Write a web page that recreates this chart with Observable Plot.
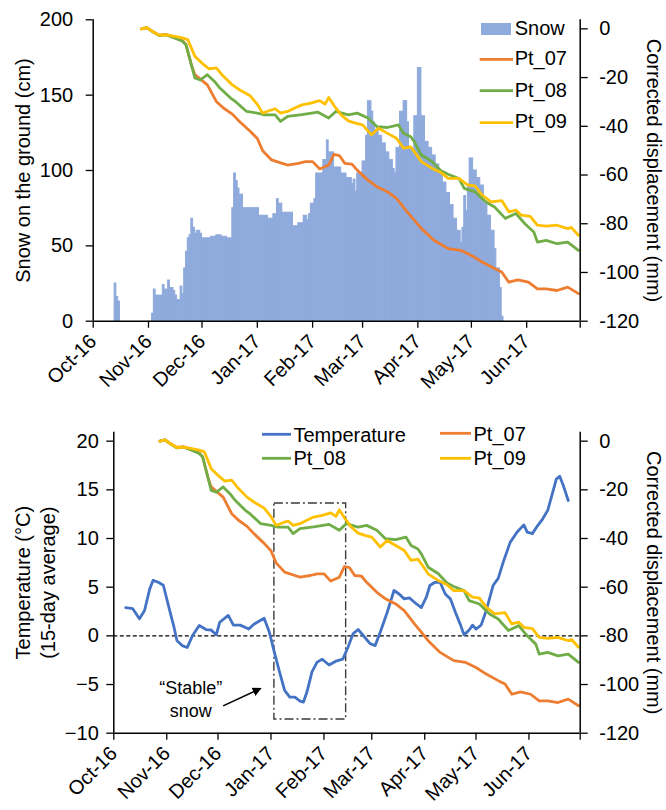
<!DOCTYPE html>
<html><head><meta charset="utf-8">
<script src="https://cdn.jsdelivr.net/npm/d3@7"></script>
<script src="https://cdn.jsdelivr.net/npm/@observablehq/plot@0.6"></script>
<style>
body{margin:0;background:#fff}
#c svg{display:block;overflow:visible}
</style></head><body><div id="c"></div>
<script>
// ---------- DATA ----------
const snowDates = ["2016-10-13","2016-10-14","2016-10-15","2016-10-16",
"2016-11-03","2016-11-04","2016-11-05","2016-11-09","2016-11-10","2016-11-12","2016-11-13","2016-11-15","2016-11-16","2016-11-17","2016-11-19","2016-11-20","2016-11-21","2016-11-22","2016-11-23","2016-11-24","2016-11-25","2016-11-26","2016-11-27","2016-11-28","2016-11-30",
"2016-12-01","2016-12-06","2016-12-09","2016-12-12","2016-12-15","2016-12-18","2016-12-19","2016-12-20","2016-12-21","2016-12-22","2016-12-24",
"2017-01-02","2017-01-07","2017-01-10","2017-01-12","2017-01-13","2017-01-15","2017-01-21","2017-01-24","2017-01-27","2017-01-29","2017-01-30","2017-01-31",
"2017-02-02","2017-02-03","2017-02-07","2017-02-09","2017-02-10","2017-02-13","2017-02-17","2017-02-20","2017-02-23","2017-02-24","2017-02-25","2017-02-26",
"2017-03-01","2017-03-03","2017-03-04","2017-03-06","2017-03-07","2017-03-08","2017-03-10","2017-03-12","2017-03-14","2017-03-16","2017-03-18","2017-03-19","2017-03-20","2017-03-22","2017-03-24","2017-03-26","2017-03-27","2017-03-29","2017-03-30",
"2017-04-01","2017-04-03","2017-04-05","2017-04-07","2017-04-09","2017-04-11","2017-04-13","2017-04-15","2017-04-17","2017-04-19","2017-04-21","2017-04-23","2017-04-25","2017-04-26","2017-04-27","2017-04-28","2017-04-29","2017-04-30",
"2017-05-02","2017-05-04","2017-05-06","2017-05-08","2017-05-10","2017-05-12","2017-05-14","2017-05-15","2017-05-17","2017-05-18","2017-05-19"];
const snowCm = [25,16,13,0,
5,21,17,24,21,27,22,20,17,14,23,18,35,46,55,57,68,62,58,60,58,
55,56,57,56,55,75,98,93,88,84,75,
70,68,71,81,78,72,63,65,70,67,71,78,
81,98,107,120,112,102,98,95,91,94,86,98,
106,123,146,139,132,127,123,118,112,107,101,98,115,139,146,132,115,112,136,
168,136,119,115,110,104,98,92,85,77,68,60,52,62,83,73,90,108,
100,95,90,78,70,60,48,35,22,3,0];

const pt07Dates = ["2016-10-28","2016-10-31","2016-11-03","2016-11-07","2016-11-11","2016-11-15","2016-11-20","2016-11-22","2016-11-25","2016-11-27","2016-12-04","2016-12-09","2016-12-13","2016-12-18","2016-12-22","2016-12-28","2017-01-01","2017-01-04","2017-01-09","2017-01-15","2017-01-18","2017-01-24","2017-01-28","2017-02-01","2017-02-05","2017-02-10","2017-02-13","2017-02-16","2017-02-19","2017-02-23","2017-02-26","2017-03-04","2017-03-09","2017-03-15","2017-03-20","2017-03-26","2017-03-30","2017-04-03","2017-04-10","2017-04-18","2017-04-25","2017-05-01","2017-05-07","2017-05-14","2017-05-18","2017-05-22","2017-05-27","2017-06-02","2017-06-07","2017-06-12","2017-06-18","2017-06-24","2017-06-30"];
const pt07Mm = [0,0.5,-1,-2.6,-2.3,-3.5,-4.8,-6.5,-14.7,-18.8,-23,-29.8,-32.5,-35,-38,-42,-45,-50,-53.8,-55.2,-55.9,-55.2,-54.5,-54.5,-57.5,-55.9,-51.5,-52,-55.2,-55.5,-58,-62.1,-64.8,-66.9,-69.6,-75.1,-78.5,-82,-86.8,-90.2,-90.9,-93,-95.7,-98.4,-99.8,-104,-103,-104,-106.7,-106.7,-107.4,-106,-108.7];

const pt08Dates = ["2016-10-28","2016-10-31","2016-11-03","2016-11-07","2016-11-11","2016-11-15","2016-11-20","2016-11-22","2016-11-25","2016-11-27","2016-11-30","2016-12-04","2016-12-08","2016-12-11","2016-12-17","2016-12-20","2016-12-26","2017-01-01","2017-01-05","2017-01-11","2017-01-14","2017-01-18","2017-01-26","2017-02-04","2017-02-10","2017-02-14","2017-02-21","2017-02-26","2017-03-04","2017-03-09","2017-03-15","2017-03-21","2017-03-24","2017-03-28","2017-03-30","2017-04-03","2017-04-09","2017-04-14","2017-04-18","2017-04-24","2017-04-27","2017-05-03","2017-05-09","2017-05-14","2017-05-20","2017-05-26","2017-05-31","2017-06-05","2017-06-07","2017-06-12","2017-06-18","2017-06-24","2017-06-30"];
const pt08Mm = [0,0.5,-1,-2.8,-2.5,-3.5,-5.1,-6.5,-14.7,-20.2,-21,-18.8,-21.6,-24.3,-28.4,-30,-33.9,-34.6,-35.3,-35.3,-38,-35.9,-35.2,-34.2,-36.6,-33.9,-35.3,-34.6,-36.6,-40.1,-40.5,-39.4,-42.9,-44.3,-46.3,-51.8,-54.5,-58.3,-59.7,-61.4,-65.5,-66.9,-71,-73.1,-77.8,-75.8,-80,-83.4,-87.5,-86.8,-88.2,-87.5,-90.9];

const pt09Dates = ["2016-10-28","2016-10-31","2016-11-03","2016-11-07","2016-11-11","2016-11-15","2016-11-20","2016-11-23","2016-11-25","2016-11-27","2016-12-02","2016-12-05","2016-12-09","2016-12-13","2016-12-18","2016-12-22","2016-12-28","2017-01-01","2017-01-04","2017-01-08","2017-01-11","2017-01-14","2017-01-18","2017-01-22","2017-01-26","2017-01-31","2017-02-05","2017-02-08","2017-02-10","2017-02-13","2017-02-17","2017-02-21","2017-02-25","2017-03-01","2017-03-06","2017-03-10","2017-03-15","2017-03-20","2017-03-24","2017-03-28","2017-03-30","2017-04-03","2017-04-09","2017-04-14","2017-04-18","2017-04-24","2017-04-29","2017-05-03","2017-05-07","2017-05-12","2017-05-18","2017-05-22","2017-05-26","2017-05-29","2017-06-03","2017-06-07","2017-06-12","2017-06-18","2017-06-24","2017-06-26","2017-06-30"];
const pt09Mm = [0,0.5,-1,-2.6,-2.5,-3,-3.7,-4.4,-7.8,-11.3,-14.7,-16.4,-16,-19.5,-23,-25,-27.5,-31,-34.6,-33.5,-32.8,-34.6,-33.9,-32.5,-31.2,-30.5,-29.5,-30.9,-28.2,-31.5,-35.3,-37.8,-38.7,-39.4,-43.5,-40.8,-42.9,-44.9,-49,-48.5,-50.4,-54.5,-57.3,-59,-61.4,-61.4,-64.1,-64.5,-68.2,-71,-70.5,-75.1,-74.4,-76.5,-77,-80.6,-81,-80.6,-82,-81.5,-84.7];

const tempDates = ["2016-10-08","2016-10-12","2016-10-16","2016-10-19","2016-10-22","2016-10-24","2016-10-27","2016-10-30","2016-11-02","2016-11-05","2016-11-07","2016-11-10","2016-11-13","2016-11-16","2016-11-20","2016-11-24","2016-11-27","2016-11-30","2016-12-02","2016-12-07","2016-12-10","2016-12-14","2016-12-19","2016-12-22","2016-12-28","2016-12-31","2017-01-03","2017-01-06","2017-01-09","2017-01-12","2017-01-15","2017-01-18","2017-01-20","2017-01-22","2017-01-25","2017-01-28","2017-01-31","2017-02-04","2017-02-08","2017-02-12","2017-02-15","2017-02-18","2017-02-21","2017-02-24","2017-02-28","2017-03-03","2017-03-06","2017-03-10","2017-03-14","2017-03-17","2017-03-20","2017-03-23","2017-03-27","2017-03-30","2017-04-02","2017-04-04","2017-04-07","2017-04-10","2017-04-13","2017-04-16","2017-04-19","2017-04-22","2017-04-24","2017-04-27","2017-04-29","2017-05-01","2017-05-04","2017-05-07","2017-05-11","2017-05-14","2017-05-17","2017-05-21","2017-05-25","2017-05-29","2017-05-31","2017-06-03","2017-06-06","2017-06-09","2017-06-12","2017-06-15","2017-06-17","2017-06-19","2017-06-21","2017-06-24"];
const tempC = [2.9,2.8,1.75,2.6,4.8,5.7,5.5,5.2,3.1,1.06,-0.5,-1.0,-1.2,0.0,1.06,0.65,0.6,0.1,1.4,2.1,1.1,1.1,0.7,1.2,1.8,0.4,-1.7,-3.7,-5.6,-6.3,-6.3,-6.7,-6.8,-5.8,-3.7,-2.7,-2.4,-3.0,-2.6,-2.4,-1.2,0.2,0.65,0.04,-0.8,-1.0,0.4,2.4,4.66,4.3,3.8,3.9,3.3,2.9,4.0,5.17,5.5,5.5,4.3,3.8,2.4,1.1,0.1,0.6,1.1,0.7,1.1,2.6,5.17,5.9,7.6,9.6,10.65,11.4,10.65,10.5,11.3,12.0,12.9,14.8,16.1,16.4,15.5,13.9];

const monthTicks = ["2016-10-01","2016-11-01","2016-12-01","2017-01-01","2017-02-01","2017-03-01","2017-04-01","2017-05-01","2017-06-01","2017-07-01"];
const monthLabels = ["Oct-16","Nov-16","Dec-16","Jan-17","Feb-17","Mar-17","Apr-17","May-17","Jun-17",""];
const snowTicks = [0,50,100,150,200];
const dispTicks = [-120,-100,-80,-60,-40,-20,0];
const tempTicks = [-10,-5,0,5,10,15,20];

const boxDates = ["2017-01-03","2017-02-14"];
const boxC = [-8.6, 13.6];
const arrowDates = ["2016-12-04","2016-12-26"];
const arrowC = [-7.2, -5.4];
const noteDate = "2016-11-15";
const noteC = -6.4;
const noteText = "\u201CStable\u201D\nsnow";

// ---------- HELPERS ----------
const P = s => new Date(s + "T00:00:00Z");
const FONT = "'Liberation Sans', Arial, sans-serif";
const SNOW = "#8FAADC", C07 = "#ED7D31", C08 = "#70AD47", C09 = "#FFC000", CT = "#4472C4";
const xStart = P(monthTicks[0]), xEnd = P(monthTicks[monthTicks.length - 1]);
const tickDates = monthTicks.map(P);
const labelOf = new Map(tickDates.map((d, i) => [+d, monthLabels[i]]));

const series = (dates, vals) => dates.map((d, i) => ({date: P(d), v: vals[i]}));
const s07 = series(pt07Dates, pt07Mm), s08 = series(pt08Dates, pt08Mm), s09 = series(pt09Dates, pt09Mm);
const sT = series(tempDates, tempC);
const snowRows = snowDates.slice(0, -1).map((d, i) => ({x1: P(d), x2: P(snowDates[i + 1]), v: snowCm[i]}));

function ptMarks(f) {
  return [[s07, C07], [s08, C08], [s09, C09]].map(([s, c]) =>
    Plot.line(s, {x: "date", y: d => f(d.v), stroke: c, strokeWidth: 2.8, strokeLinejoin: "round", curve: "linear"}));
}
const axisStyle = {stroke: "#000", strokeWidth: 1.5};

// ---------- TOP PANEL ----------
const K = 194 / 120;
const toSnow = r => (r + 120) * K;
const topPlot = Plot.plot({
  width: 666, height: 400,
  marginTop: 19.3, marginRight: 86.3, marginBottom: 79.3, marginLeft: 92.7,
  style: {fontFamily: FONT, fontSize: "20px", color: "#000", background: "#fff", overflow: "visible"},
  x: {type: "utc", domain: [xStart, xEnd]},
  y: {domain: [0, 200]},
  marks: [
    Plot.rectY(snowRows, {x1: "x1", x2: "x2", y: "v", fill: SNOW, stroke: SNOW, strokeWidth: 1}),
    ...ptMarks(toSnow),
    Plot.ruleX([xStart], axisStyle),
    Plot.ruleX([xEnd], axisStyle),
    Plot.ruleY([0], axisStyle),
    Plot.axisY(snowTicks, {tickSize: 7, tickPadding: 13, fontSize: 20, label: null, strokeWidth: 1.3}),
    Plot.axisY(dispTicks.map(toSnow), {anchor: "right", tickSize: 7, tickPadding: 12, fontSize: 20, label: null, strokeWidth: 1.3,
      tickFormat: d => String(Math.round(d / K - 120))}),
    Plot.axisX(tickDates, {tickRotate: -45, tickSize: 7, tickPadding: 10, fontSize: 20, label: null, strokeWidth: 1.3,
      tickFormat: d => labelOf.get(+d)}),
    Plot.text(["Snow on the ground (cm)"], {frameAnchor: "left", textAnchor: "middle", rotate: -90, dx: -70, fontSize: 20}),
    Plot.text(["Corrected displacement (mm)"], {frameAnchor: "right", textAnchor: "middle", rotate: 90, dx: 73, fontSize: 20})
  ]
});

// ---------- BOTTOM PANEL ----------
const toTemp = r => r / 4 + 20;
const botPlot = Plot.plot({
  width: 666, height: 410,
  marginTop: 31.7, marginRight: 86.3, marginBottom: 77.3, marginLeft: 113.3,
  style: {fontFamily: FONT, fontSize: "20px", color: "#000", background: "#fff", overflow: "visible"},
  x: {type: "utc", domain: [xStart, xEnd]},
  y: {domain: [-10, 20.92]},
  marks: [
    Plot.ruleY([0], {stroke: "#000", strokeWidth: 1.3, strokeDasharray: "4,2.5"}),
    Plot.rect([{x1: P(boxDates[0]), x2: P(boxDates[1]), y1: boxC[0], y2: boxC[1]}],
      {x1: "x1", x2: "x2", y1: "y1", y2: "y2", fill: "none", stroke: "#3a3a3a", strokeWidth: 1.4, strokeDasharray: "9,3,2,3"}),
    Plot.line(sT, {x: "date", y: "v", stroke: CT, strokeWidth: 2.8, strokeLinejoin: "round"}),
    ...ptMarks(toTemp),
    Plot.link([{x1: P(arrowDates[0]), y1: arrowC[0], x2: P(arrowDates[1]), y2: arrowC[1]}],
      {x1: "x1", y1: "y1", x2: "x2", y2: "y2", stroke: "#000", strokeWidth: 1.5, className: "note-arrow"}),
    Plot.text([noteText], {x: () => P(noteDate), y: () => noteC, fontSize: 18, lineHeight: 1.3, textAnchor: "middle", fill: "#000"}),
    Plot.ruleX([xStart], axisStyle),
    Plot.ruleX([xEnd], axisStyle),
    Plot.ruleY([-10], axisStyle),
    Plot.axisY(tempTicks, {tickSize: 7, tickPadding: 8, fontSize: 20, label: null, strokeWidth: 1.3}),
    Plot.axisY(dispTicks.map(toTemp), {anchor: "right", tickSize: 7, tickPadding: 12, fontSize: 20, label: null, strokeWidth: 1.3,
      tickFormat: d => String(Math.round((d - 20) * 4))}),
    Plot.axisX(tickDates, {tickRotate: -45, tickSize: 7, tickPadding: 10, fontSize: 20, label: null, strokeWidth: 1.3,
      tickFormat: d => labelOf.get(+d)}),
    Plot.text(["Temperature (\u00B0C)\n(15-day average)"], {frameAnchor: "left", textAnchor: "middle", rotate: -90, dx: -79, fontSize: 20, lineHeight: 1.25}),
    Plot.text(["Corrected displacement (mm)"], {frameAnchor: "right", textAnchor: "middle", rotate: 90, dx: 73, fontSize: 20})
  ]
});

document.getElementById("c").append(topPlot, botPlot);

// ---------- LEGENDS & ARROW HEAD ----------
function legendLine(svg, x1, x2, y, color, label, tx, ty) {
  svg.append("line").attr("x1", x1).attr("x2", x2).attr("y1", y).attr("y2", y)
    .attr("stroke", color).attr("stroke-width", 2.8);
  svg.append("text").attr("x", tx).attr("y", ty).attr("font-size", 20).attr("text-anchor", "start").attr("fill", "#000").text(label);
}
const ts = d3.select(topPlot);
ts.append("rect").attr("x", 481).attr("y", 23).attr("width", 30).attr("height", 12).attr("fill", SNOW);
ts.append("text").attr("x", 514.7).attr("y", 35).attr("font-size", 20).attr("text-anchor", "start").attr("fill", "#000").text("Snow");
legendLine(ts, 479.7, 513, 59.3, C07, "Pt_07", 514.7, 65);
legendLine(ts, 479.7, 513, 90.7, C08, "Pt_08", 514.7, 96.7);
legendLine(ts, 479.7, 513, 122.7, C09, "Pt_09", 514.7, 128.3);

const bs = d3.select(botPlot);
legendLine(bs, 262, 291, 34.3, CT, "Temperature", 293.5, 41.7);
legendLine(bs, 262, 291, 58.3, C08, "Pt_08", 293.5, 65);
legendLine(bs, 440, 471, 33.3, C07, "Pt_07", 473.5, 40.7);
legendLine(bs, 440, 471, 58.3, C09, "Pt_09", 473.5, 65);

const defs = bs.append("defs");
defs.append("marker").attr("id", "fa").attr("viewBox", "0 0 10 10").attr("refX", 9).attr("refY", 5)
  .attr("markerWidth", 6).attr("markerHeight", 6).attr("markerUnits", "strokeWidth").attr("orient", "auto")
  .append("path").attr("d", "M0,0L10,5L0,10Z").attr("fill", "#000");
bs.selectAll(".note-arrow line, .note-arrow path").attr("marker-end", "url(#fa)");
</script></body></html>
